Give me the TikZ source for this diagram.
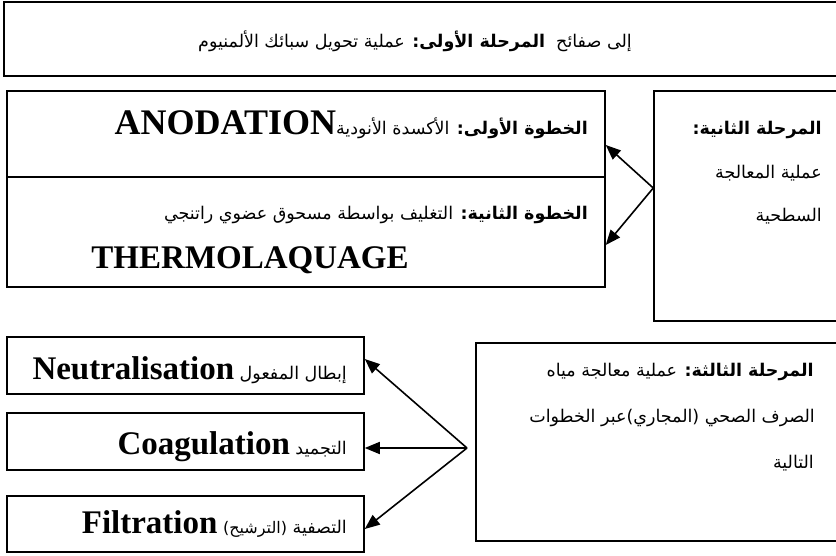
\documentclass[tikz,border=0pt]{standalone}
\usepackage{fontspec}
\setmainfont{Liberation Serif}
\newfontfamily\arabicfont[Script=Arabic]{DejaVu Sans}
\TeXXeTstate=1
\usetikzlibrary{arrows.meta,fit}
\newcommand\AR[1]{\beginR #1\endR}
\newcommand\LB[1]{{\rmfamily\bfseries\fontsize{33}{36}\selectfont #1}}
\newcommand\ARB[1]{{\bfseries #1}}
\tikzset{
  boxline/.style={draw=black, line width=1.5pt, inner sep=0pt},
  artext/.style={font=\arabicfont\fontsize{17.5}{20}\selectfont, inner sep=0pt, anchor=base east},
  arrowline/.style={-{Triangle[length=15pt,width=12pt]}, line width=1.6pt},
}
\begin{document}
\begin{tikzpicture}[x=1pt,y=-1pt]
\useasboundingbox (0,0) rectangle (836,555);
% boxes
\node[boxline, fit={(4,2) (842,76)}] (top) {};
\node[boxline, fit={(7,91) (605,287)}] (mid) {};
\node[boxline, fit={(654,91) (842,321)}] (r2) {};
\node[boxline, fit={(7,337) (364,394)}] (b1) {};
\node[boxline, fit={(7,413) (364,470)}] (b2) {};
\node[boxline, fit={(7,496) (364,552)}] (b3) {};
\node[boxline, fit={(476,343) (842,541)}] (r3) {};
\draw[line width=1.5pt] (mid.west |- 0,177) -- (mid.east |- 0,177);
% texts
\node[artext, anchor=base] (t0) at (415,47) {\AR{إلى صفائح\ \ \ARB{المرحلة الأولى:} عملية تحويل سبائك الألمنيوم}};
\node[artext] (m1) at (588,134) {\AR{\ARB{الخطوة الأولى:} الأكسدة الأنودية{\rmfamily\bfseries\fontsize{36}{40}\selectfont ANODATION}}};
\node[artext] (m2) at (588,219) {\AR{\ARB{الخطوة الثانية:} التغليف بواسطة مسحوق عضوي راتنجي}};
\node[anchor=base, inner sep=0pt, font=\rmfamily\bfseries\fontsize{33}{36}\selectfont] (m3) at (250,268) {THERMOLAQUAGE};
\node[artext] (p1) at (822,134) {\AR{\ARB{المرحلة الثانية:}}};
\node[artext] (p2) at (822,178) {\AR{عملية المعالجة}};
\node[artext] (p3) at (822,221) {\AR{السطحية}};
\node[artext] (q1) at (814,376) {\AR{\ARB{المرحلة الثالثة:} عملية معالجة مياه}};
\node[artext] (q2) at (815,422) {\AR{الصرف الصحي (المجاري)عبر الخطوات}};
\node[artext] (q3) at (814,468) {\AR{التالية}};
\node[artext] (n1) at (347,379) {\AR{إبطال المفعول \LB{Neutralisation}}};
\node[artext] (n2) at (347,454) {\AR{التجميد \LB{Coagulation}}};
\node[artext] (n3) at (347,533) {\AR{التصفية {\fontsize{16}{18}\selectfont(الترشيح)} \LB{Filtration}}};
% arrows
\coordinate (s2) at (r2.west |- 0,188);
\coordinate (s3) at (467,448);
\draw[arrowline] (s2) -- (mid.east |- 0,145);
\draw[arrowline] (s2) -- (mid.east |- 0,245);
\draw[arrowline] (s3) -- (b1.east |- 0,359);
\draw[arrowline] (s3) -- (b2.east |- 0,448);
\draw[arrowline] (s3) -- (b3.east |- 0,529);
\end{tikzpicture}
\end{document}
